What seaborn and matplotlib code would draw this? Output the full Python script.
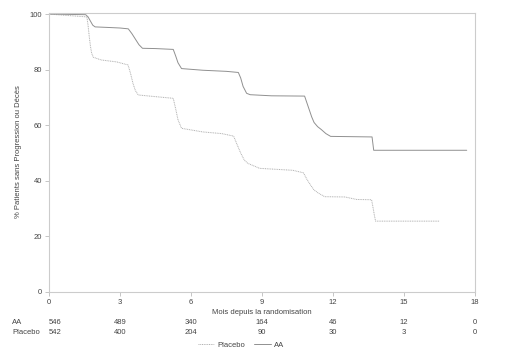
import matplotlib
matplotlib.use("Agg")
import matplotlib.pyplot as plt
import seaborn as sns
import pandas as pd
from matplotlib.lines import Line2D

# Courbes de Kaplan-Meier (mois, % patients)
aa_temps = [0, 1.55, 1.65, 1.75, 1.85, 1.95, 2.5, 3.0, 3.35, 3.5, 3.65, 3.8, 3.95, 4.5,
            5.25, 5.35, 5.45, 5.6, 6.5, 7.5, 8.0, 8.1, 8.2, 8.35, 8.5, 9.4, 10.8, 10.9,
            11.0, 11.1, 11.2, 11.35, 11.5, 11.7, 11.9, 13.65, 13.72, 17.65]
aa_surv = [100, 99.8, 99, 97.5, 96, 95.4, 95.2, 95.0, 94.7, 93, 91, 89, 87.7, 87.6,
           87.3, 85, 82.5, 80.4, 79.8, 79.4, 79.0, 77, 74, 71.5, 71.0, 70.6, 70.5, 68,
           65.5, 63, 61, 59.5, 58.5, 57, 56, 55.8, 51, 51]

placebo_temps = [0, 1.6, 1.65, 1.7, 1.75, 1.8, 1.87, 2.2, 2.86, 3.34, 3.45, 3.55, 3.65,
                 3.77, 4.5, 5.25, 5.35, 5.45, 5.6, 6.5, 7.3, 7.8, 7.95, 8.1, 8.25, 8.4,
                 8.9, 9.5, 10.3, 10.75, 10.9, 11.05, 11.2, 11.4, 11.65, 12.5, 13.0,
                 13.63, 13.7, 13.75, 13.8, 16.5]
placebo_surv = [100, 99, 96, 92, 88.5, 86, 84.5, 83.5, 82.8, 81.7, 78.5, 75, 72.5,
                70.9, 70.3, 69.7, 66, 62, 58.9, 57.6, 57, 56.1, 53, 50, 47.5, 46.3,
                44.5, 44.2, 43.8, 42.9, 40.5, 38.5, 36.7, 35.5, 34.3, 34.2, 33.3,
                33.2, 30, 27.5, 25.5, 25.5]

# Nombre de patients à risque
temps_risque = [0, 3, 6, 9, 12, 15, 18]
risque_aa = [546, 489, 340, 164, 46, 12, 0]
risque_placebo = [542, 400, 204, 90, 30, 3, 0]

sns.set_style("white")
plt.rcParams['font.family'] = ['Liberation Sans', 'DejaVu Sans']
txt = "#444444"
fs = 5.5
c_aa = "#909090"
c_pl = "#b0b0b0"

fig = plt.figure(figsize=(5.13, 3.57), dpi=100)
ax = fig.add_axes([49 / 513, 1 - 292 / 357, 426 / 513, 279 / 357])

df_aa = pd.DataFrame({"t": aa_temps, "s": aa_surv})
df_pl = pd.DataFrame({"t": placebo_temps, "s": placebo_surv})
sns.lineplot(data=df_pl, x="t", y="s", ax=ax, estimator=None, sort=False,
             color=c_pl, linewidth=0.7, linestyle=(0, (1, 0.8)))
sns.lineplot(data=df_aa, x="t", y="s", ax=ax, estimator=None, sort=False,
             color=c_aa, linewidth=0.7)

ax.set_xlim(0, 18)
ax.set_ylim(0, 100.4)
ax.set_xticks(temps_risque)
ax.set_yticks([0, 20, 40, 60, 80, 100])
ax.tick_params(axis="both", labelsize=fs, labelcolor=txt, color="#bbbbbb",
               length=3, width=0.6, pad=2, left=True, bottom=True)
for sp in ax.spines.values():
    sp.set_color("#cccccc")
    sp.set_linewidth(0.8)

ax.set_xlabel("")
ax.set_ylabel("")
fig.text(19 / 513, 1 - 152 / 357, "% Patients sans Progression ou Décès", rotation=90,
         ha="center", va="center", fontsize=fs, color=txt)
fig.text(262 / 513, 1 - 313 / 357, "Mois depuis la randomisation", ha="center",
         va="center", fontsize=fs, color=txt)

# Tableau des patients à risque
x0, x1 = 49, 475
for lab, vals, y in [("AA", risque_aa, 322), ("Placebo", risque_placebo, 333)]:
    fig.text(12 / 513, 1 - y / 357, lab, ha="left", va="center", fontsize=fs, color=txt)
    for t, v in zip(temps_risque, vals):
        px = x0 + (x1 - x0) * t / 18
        fig.text(px / 513, 1 - y / 357, str(v), ha="left" if t == 0 else "center",
                 va="center", fontsize=fs, color=txt)

handles = [Line2D([], [], color=c_pl, lw=0.7, linestyle=(0, (1, 0.8))),
           Line2D([], [], color=c_aa, lw=0.7)]
fig.legend(handles, ["Placebo", "AA"], loc="center", bbox_to_anchor=(241 / 513, 1 - 345 / 357),
           ncol=2, frameon=False, fontsize=fs, labelcolor=txt, handlelength=2.2,
           handletextpad=0.4, columnspacing=1.2)

fig.savefig("out.png", dpi=100)
